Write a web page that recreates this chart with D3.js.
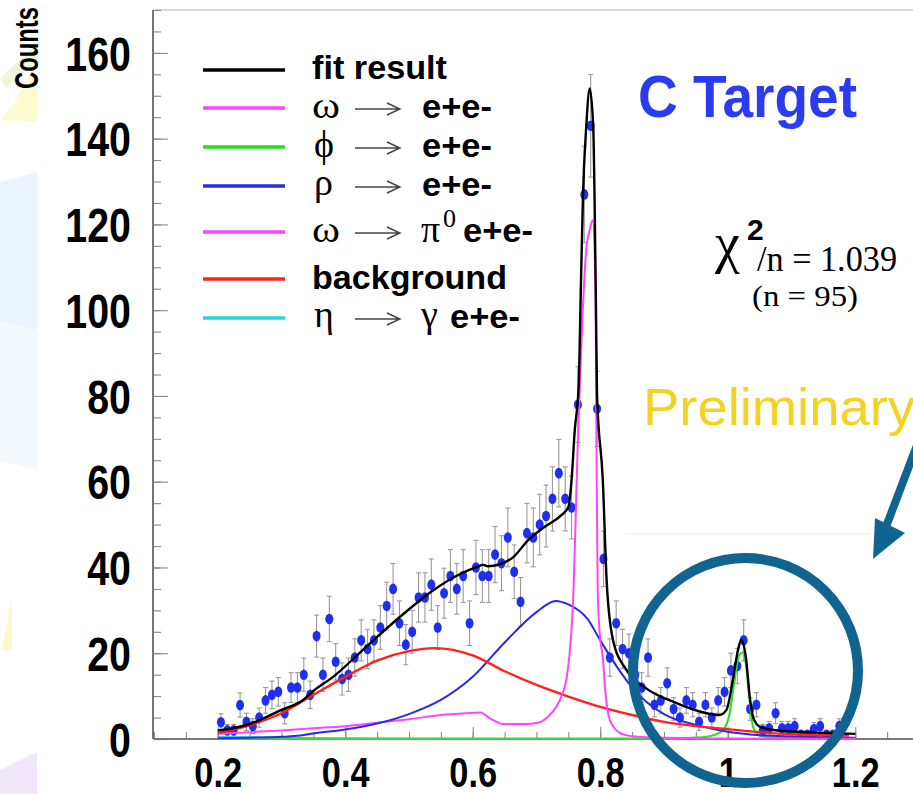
<!DOCTYPE html>
<html>
<head>
<meta charset="utf-8">
<title>C Target - dilepton mass</title>
<script src="https://cdn.jsdelivr.net/npm/d3@7"></script>
<style>
  body { margin: 0; background: #ffffff; }
  svg { display: block; }
</style>
</head>
<body>
<div id="chart"></div>
<script>
// ---- data ----
// histogram: 100 bins of 0.01 from 0.2 to 1.2 (null = empty bin)
const binStart = 0.2, binWidth = 0.01;
const counts = [
  3.9, 2, 2, 7.9, 4, 3, 5, 9, 10.3, 11,
  6, 12, 12, 15, 10.3, 24, 15, 28, 18, 14,
  15, 19, 23, 21, 23, 26, 31, 35, 27, 22,
  25, 33, 33, 36, 26, 34, 38, 35, 38, 27,
  40, 38, 38, 43, 41, 47, 39, 32, 48, 47,
  50, 52, 56, 62, 56, 54, 78, 127, 143, 77,
  42, 19, 27, 21, 20, 15, 12, 19, 8, 9,
  13, 7, 5, 9, 8, 4, 8, 5, 9, 11,
  16, 17, 23, 7, 8, 2, 2.5, 6, 2.5, 2.5,
  3, 1, 1, 2.3, 3, 1, 1, 3, null, null
];

const fitCurve = [
  [0.2, 2.0], [0.22, 2.4], [0.25, 3.5], [0.3, 6.8], [0.334, 9.1], [0.35, 11.2],
  [0.381, 14.5], [0.433, 21.5], [0.486, 28.5], [0.538, 34.7], [0.582, 38.6],
  [0.608, 40.2], [0.616, 40.6], [0.624, 40.3], [0.661, 42.1], [0.687, 46.4],
  [0.713, 49.5], [0.739, 52.2], [0.75, 54.1], [0.755, 60.4], [0.76, 72],
  [0.766, 82], [0.77, 108], [0.773, 127], [0.778, 142.7], [0.7835, 151.7],
  [0.789, 142.7], [0.791, 127], [0.793, 104], [0.795, 80], [0.804, 60.4],
  [0.81, 37], [0.82, 23.1], [0.841, 16.1], [0.872, 11.8], [0.914, 8.7],
  [0.967, 6.0], [0.987, 5.6], [0.998, 6.8], [1.008, 13.8], [1.016, 20.7],
  [1.021, 23.1], [1.029, 18.4], [1.034, 10.5], [1.04, 5.0], [1.05, 2.9],
  [1.071, 2.1], [1.12, 1.6], [1.176, 1.3], [1.2, 1.2]
];
const omegaEE = [
  [0.645, 3.5], [0.686, 3.5], [0.705, 3.9], [0.718, 5.2], [0.731, 7.5], [0.739, 9.9],
  [0.747, 14], [0.752, 20], [0.757, 30.8], [0.765, 70], [0.772, 98], [0.778, 114],
  [0.784, 119], [0.788, 121], [0.7925, 105], [0.794, 70], [0.796, 35], [0.799, 25],
  [0.804, 19], [0.808, 11], [0.813, 5.5], [0.82, 3], [0.83, 1.5], [0.84, 0.9],
  [0.86, 0.5], [0.9, 0.3], [1.0, 0.1], [1.2, 0.05]
];
const phiEE = [
  [0.2, 0.1], [0.9, 0.1], [0.95, 0.3], [0.966, 0.5], [0.98, 1.0], [0.993, 2.1],
  [1.003, 6], [1.01, 13], [1.017, 19.2], [1.024, 20.2], [1.029, 17], [1.034, 9.5],
  [1.04, 2.7], [1.05, 0.9], [1.07, 0.3], [1.2, 0.1]
];
const rhoEE = [
  [0.2, 0.2], [0.25, 0.3], [0.3, 0.5], [0.33, 0.8], [0.35, 1.3], [0.4, 2.2],
  [0.45, 3.6], [0.5, 5.8], [0.55, 9.1], [0.6, 14.5], [0.65, 22.5], [0.7, 29.6],
  [0.73, 32.2], [0.75, 31.4], [0.78, 28.0], [0.8, 23.0], [0.83, 16], [0.85, 12],
  [0.9, 5.8], [0.95, 3.3], [1.0, 1.7], [1.05, 0.9], [1.1, 0.6], [1.15, 0.4], [1.2, 0.3]
];
const omegaDalitz = [
  [0.2, 1.2], [0.25, 1.6], [0.3, 2.0], [0.35, 2.5], [0.4, 3.0], [0.45, 3.8],
  [0.5, 4.6], [0.55, 5.6], [0.6, 6.1], [0.612, 6.2], [0.627, 4.8], [0.645, 3.5]
];
const background = [
  [0.2, 1.4], [0.25, 3.2], [0.3, 6.0], [0.35, 10.3], [0.4, 14.5], [0.45, 18.3],
  [0.5, 20.5], [0.54, 21.2], [0.6, 19.5], [0.65, 15.8], [0.7, 12.6], [0.75, 9.9],
  [0.8, 7.5], [0.85, 5.6], [0.9, 4.0], [0.95, 3.0], [1.0, 2.3], [1.05, 1.6],
  [1.1, 1.1], [1.15, 0.9], [1.19, 0.8]
];
const etaDalitz = [
  [0.2, 0.5], [0.25, 0.4], [0.3, 0.3], [0.35, 0.15], [0.4, 0.1], [0.5, 0.05], [0.55, 0]
];

const yTicks = [0, 20, 40, 60, 80, 100, 120, 140, 160];
const xTicks = [0.2, 0.4, 0.6, 0.8, 1.0, 1.2];

const legendColors = ["#000000", "#ff44ff", "#22dd22", "#2a2ae6", "#ff44ff", "#ff2020", "#22d8d8"];

// ---- drawing ----
var width = 913, height = 794;
var svg = d3.select("#chart").append("svg")
    .attr("width", width)
    .attr("height", height)
    .style("background", "#ffffff");

// pale slide decoration on the left edge
var deco = [
  { pts: [[0,78],[37,44],[37,62],[6,88]], fill: "#eef6dc" },
  { pts: [[32,70],[37,70],[37,122],[0,120],[14,104]], fill: "#fdfbd2" },
  { pts: [[0,182],[37,172],[37,330],[0,322]], fill: "#ecf5fd" },
  { pts: [[0,322],[37,330],[37,470],[0,460]], fill: "#f4f9fe" },
  { pts: [[12,597],[12,650],[2,650]], fill: "#fdf9cc" },
  { pts: [[0,770],[37,752],[37,794],[0,794]], fill: "#f1e7fa" }
];
svg.selectAll("polygon.deco").data(deco).enter().append("polygon")
    .attr("class", "deco")
    .attr("points", d => d.pts.map(p => p.join(",")).join(" "))
    .attr("fill", d => d.fill);

var x = d3.scaleLinear().domain([0.1, 1.3]).range([154, 919]);
var y = d3.scaleLinear().domain([0, 170]).range([739, 10]);

// frame top
svg.append("line")
    .attr("x1", 153).attr("x2", width).attr("y1", 10).attr("y2", 10)
    .attr("stroke", "#b0b0b0").attr("stroke-width", 1.2);

// faint yellow guide line
svg.append("line")
    .attr("x1", 625).attr("x2", 870).attr("y1", 534).attr("y2", 534)
    .attr("stroke", "#f3efd2").attr("stroke-width", 1);

// Y axis: major + minor ticks pointing inside
var yMinor = svg.append("g")
    .attr("transform", "translate(153,0)")
    .call(d3.axisLeft(y).tickValues(d3.range(0, 171, 5)).tickSize(-8).tickFormat(""));
var yAxis = svg.append("g")
    .attr("transform", "translate(153,0)")
    .call(d3.axisLeft(y).tickValues(yTicks).tickSize(-15).tickPadding(22));
yAxis.selectAll("text")
    .attr("x", -22 / 0.82)
    .attr("dy", "0.36em")
    .attr("transform", "scale(0.82,1)")
    .style("font-family", "'Liberation Sans', Arial, sans-serif")
    .style("font-weight", "bold")
    .style("font-size", "48px")
    .attr("fill", "#000");

// X axis
var xMinor = svg.append("g")
    .attr("transform", "translate(0,739)")
    .call(d3.axisBottom(x).tickValues(d3.range(0.1, 1.31, 0.05)).tickSize(-7).tickFormat(""));
var xAxis = svg.append("g")
    .attr("transform", "translate(0,739)")
    .call(d3.axisBottom(x).tickValues(xTicks).tickSize(-12).tickFormat(d3.format("")));
xAxis.selectAll("text")
    .attr("y", 48).attr("dy", 0)
    .attr("x", 0)
    .attr("transform", "scale(0.8,1)")
    .style("font-family", "'Liberation Sans', Arial, sans-serif")
    .style("font-weight", "bold")
    .style("font-size", "43px")
    .attr("fill", "#000");

[yMinor, yAxis, xMinor, xAxis].forEach(function(g) {
    g.selectAll("path.domain").attr("stroke", "#707070").attr("stroke-width", 1.6);
    g.selectAll(".tick line").attr("stroke", "#8a8a8a").attr("stroke-width", 1.1);
});
xMinor.select("path.domain").attr("d", "M154,0H" + width);
xAxis.select("path.domain").attr("d", "M154,0H" + width);
yAxis.select("path.domain").attr("d", "M0,10V739");
yMinor.select("path.domain").attr("d", "M0,10V739");

// axis title
svg.append("text")
    .attr("transform", "translate(38,48) rotate(-90)")
    .attr("text-anchor", "middle")
    .attr("textLength", 82)
    .attr("lengthAdjust", "spacingAndGlyphs")
    .style("font-family", "'Liberation Sans', Arial, sans-serif")
    .style("font-weight", "bold")
    .style("font-size", "34px")
    .text("Counts");

// data points with error bars
var points = counts.map(function(c, i) {
    return { m: binStart + binWidth * (i + 0.5), c: c };
}).filter(d => d.c !== null);

var err = svg.append("g").attr("stroke", "#9a9a9a").attr("stroke-width", 1.1);
err.selectAll("line.bar").data(points).enter().append("line")
    .attr("x1", d => x(d.m)).attr("x2", d => x(d.m))
    .attr("y1", d => y(d.c + Math.sqrt(d.c))).attr("y2", d => y(Math.max(0, d.c - Math.sqrt(d.c))));
err.selectAll("line.capTop").data(points).enter().append("line")
    .attr("x1", d => x(d.m) - 2.5).attr("x2", d => x(d.m) + 2.5)
    .attr("y1", d => y(d.c + Math.sqrt(d.c))).attr("y2", d => y(d.c + Math.sqrt(d.c)));
err.selectAll("line.capBot").data(points).enter().append("line")
    .attr("x1", d => x(d.m) - 2.5).attr("x2", d => x(d.m) + 2.5)
    .attr("y1", d => y(Math.max(0, d.c - Math.sqrt(d.c)))).attr("y2", d => y(Math.max(0, d.c - Math.sqrt(d.c))));

svg.append("g").selectAll("ellipse").data(points).enter().append("ellipse")
    .attr("cx", d => x(d.m))
    .attr("cy", d => y(d.c))
    .attr("rx", 4).attr("ry", 5.3)
    .attr("fill", "#1f2ff0");

// curves
var line = d3.line()
    .x(d => x(d[0]))
    .y(d => y(d[1]))
    .curve(d3.curveMonotoneX);

var curves = [
  { data: etaDalitz, color: "#22d8d8", w: 2 },
  { data: phiEE, color: "#33dd33", w: 2.2 },
  { data: omegaDalitz, color: "#ff44ff", w: 2 },
  { data: rhoEE, color: "#2a2ae6", w: 2 },
  { data: background, color: "#ff2020", w: 2.4 },
  { data: omegaEE, color: "#ff44ff", w: 2 },
  { data: fitCurve, color: "#000000", w: 2.4 }
];
svg.append("g").selectAll("path").data(curves).enter().append("path")
    .attr("d", d => line(d.data))
    .attr("fill", "none")
    .attr("stroke", d => d.color)
    .attr("stroke-width", d => d.w)
    .attr("stroke-linejoin", "round");

// legend
var legendY = [70, 108, 147, 186, 232, 279, 318];
var leg = svg.append("g");
leg.selectAll("line").data(legendColors).enter().append("line")
    .attr("x1", 203).attr("x2", 285)
    .attr("y1", (d, i) => legendY[i]).attr("y2", (d, i) => legendY[i])
    .attr("stroke", d => d)
    .attr("stroke-width", 3.5);

var sans = "'Liberation Sans', Arial, sans-serif";
var serif = "'Liberation Serif', 'Times New Roman', serif";

function addText(txt, xx, yy, size, opts) {
    opts = opts || {};
    var t = svg.append("text")
        .attr("x", xx).attr("y", yy)
        .style("font-family", opts.serif ? serif : sans)
        .style("font-weight", opts.bold ? "bold" : "normal")
        .style("font-size", size + "px")
        .attr("fill", opts.fill || "#000")
        .text(txt);
    if (opts.len) t.attr("textLength", opts.len).attr("lengthAdjust", "spacingAndGlyphs");
    return t;
}
// ROOT style long thin arrow
function arrow(yy) {
    svg.append("path")
        .attr("d", "M355," + (yy + 1) + "H400 M387," + (yy - 5) + "L400," + (yy + 1) + "L387," + (yy + 7))
        .attr("fill", "none")
        .attr("stroke", "#444")
        .attr("stroke-width", 1.4);
}

addText("fit result", 312, legendY[0] + 9, 34, { bold: true, len: 135 });

addText("\u03c9", 312, legendY[1] + 10, 38, { serif: true, len: 28 });
arrow(legendY[1]);
addText("e+e-", 422, legendY[1] + 10, 34, { bold: true, len: 70 });

addText("\u03d5", 314, legendY[2] + 10, 38, { serif: true });
arrow(legendY[2]);
addText("e+e-", 422, legendY[2] + 10, 34, { bold: true, len: 70 });

addText("\u03c1", 314, legendY[3] + 9, 38, { serif: true });
arrow(legendY[3]);
addText("e+e-", 422, legendY[3] + 10, 34, { bold: true, len: 70 });

addText("\u03c9", 312, legendY[4] + 10, 38, { serif: true, len: 28 });
arrow(legendY[4]);
addText("\u03c0", 421, legendY[4] + 10, 38, { serif: true });
addText("0", 443, legendY[4] - 5, 26, { serif: true });
addText("e+e-", 463, legendY[4] + 10, 34, { bold: true, len: 70 });

addText("background", 312, legendY[5] + 10, 34, { bold: true, len: 195 });

addText("\u03b7", 314, legendY[6] + 9, 38, { serif: true });
arrow(legendY[6]);
addText("\u03b3", 421, legendY[6] + 9, 38, { serif: true });
addText("e+e-", 450, legendY[6] + 10, 34, { bold: true, len: 70 });

// title and fit info
addText("C Target", 638, 117, 60, { bold: true, fill: "#2b3cf0", len: 219 });
addText("\u03c7", 715, 262, 56, { serif: true });
addText("2", 747, 240, 30, { bold: true });
addText("/n = 1.039", 757, 271, 36, { serif: true, len: 140 });
addText("(n = 95)", 752, 306, 30, { serif: true, len: 106 });
addText("Preliminary", 643, 425, 52, { fill: "#f4d224", len: 272 });

// annotation: circle and arrow
svg.append("circle")
    .attr("cx", 745.5).attr("cy", 670.5).attr("r", 112.5)
    .attr("fill", "none")
    .attr("stroke", "#11648f")
    .attr("stroke-width", 10);
svg.append("line")
    .attr("x1", 922).attr("y1", 432).attr("x2", 884).attr("y2", 532)
    .attr("stroke", "#11648f").attr("stroke-width", 8);
svg.append("polygon")
    .attr("points", "873,559 875,518 905,533")
    .attr("fill", "#11648f");
</script>
</body>
</html>
